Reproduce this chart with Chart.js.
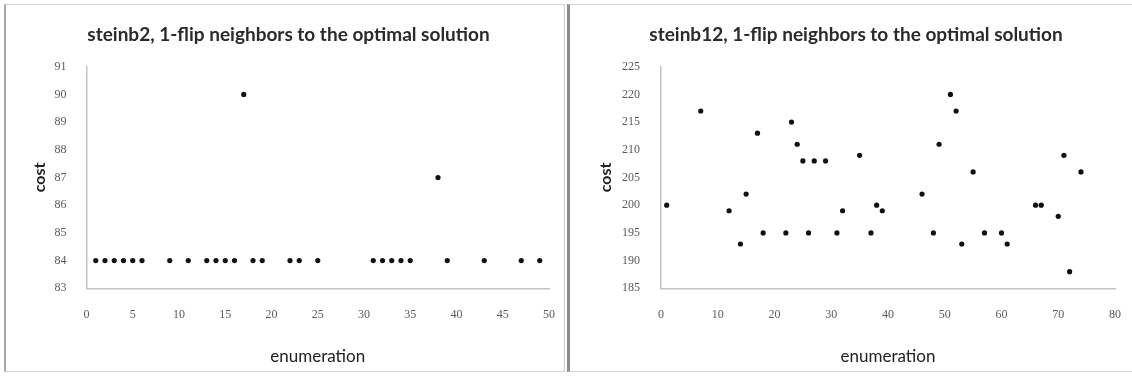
<!DOCTYPE html>
<html><head><meta charset="utf-8">
<script src="https://cdn.jsdelivr.net/npm/chart.js@4.4.0/dist/chart.umd.min.js"></script>
<style>
html,body{margin:0;padding:0;background:#fff;width:1132px;height:379px;overflow:hidden;position:relative}
.panel{position:absolute;box-sizing:border-box}
#p1{left:4px;top:4px;width:561px;height:368px;border:1px solid #cfcfcf;border-left:2px solid #a8a8a8}
#p2{left:567px;top:4px;width:565px;height:368px;border:1px solid #cfcfcf;border-left:3px solid #8c8c8c;border-right:none}
canvas{position:absolute;top:0}
#c1{left:27px}
#c2{left:570px}
</style></head>
<body>
<div class="panel" id="p1"></div>
<div class="panel" id="p2"></div>
<canvas id="c1" width="539" height="379"></canvas>
<canvas id="c2" width="562" height="379"></canvas>
<script>
// ---- data ----
const leftTitle = 'steinb2, 1-flip neighbors to the optimal solution';
const rightTitle = 'steinb12, 1-flip neighbors to the optimal solution';
const xAxisTitle = 'enumeration';
const yAxisTitle = 'cost';

const leftEnumeration = [1,2,3,4,5,6,9,11,13,14,15,16,17,18,19,22,23,25,31,32,33,34,35,38,39,43,47,49];
const leftCost        = [84,84,84,84,84,84,84,84,84,84,84,84,90,84,84,84,84,84,84,84,84,84,84,87,84,84,84,84];
const leftXTicks = [0,5,10,15,20,25,30,35,40,45,50];
const leftYTicks = [83,84,85,86,87,88,89,90,91];

const rightEnumeration = [1,7,12,14,15,17,18,22,23,24,25,26,27,29,31,32,35,37,38,39,46,48,49,51,52,53,55,57,60,61,66,67,70,71,72,74];
const rightCost        = [200,217,199,193,202,213,195,195,215,211,208,195,208,208,195,199,209,195,200,199,202,195,211,220,217,193,206,195,195,193,200,200,198,209,188,206];
const rightXTicks = [0,10,20,30,40,50,60,70,80];
const rightYTicks = [185,190,195,200,205,210,215,220,225];

function makeChart(id, xs, ys, xTicks, yTicks, title, padLeft, yAxisWidth, rightPad, yTickPad, yTitlePad){
  const pts = xs.map((x,i)=>({x:x, y:ys[i]}));
  return new Chart(document.getElementById(id), {
    type:'scatter',
    data:{datasets:[{data:pts, backgroundColor:'#111', borderColor:'#111', borderWidth:0, pointRadius:2.6, pointHoverRadius:2.6}]},
    options:{
      responsive:false, animation:false, events:[],
      layout:{padding:{left:padLeft,right:rightPad,top:0,bottom:0}},
      plugins:{
        legend:{display:false}, tooltip:{enabled:false},
        title:{display:true, text:title, color:'#2a2a2a',
          font:{family:'Lato', size:19, weight:'bold', lineHeight:1.2},
          padding:{top:23.6, bottom:20.3}}
      },
      scales:{
        x:{type:'linear', min:xTicks[0], max:xTicks[xTicks.length-1],
          afterBuildTicks:s=>{s.ticks = xTicks.map(v=>({value:v}));},
          afterFit:s=>{s.height = 90.7;},
          grid:{display:false},
          border:{display:true, color:'#c4c4c4', width:1.5},
          ticks:{padding:11, color:'#5a5a5a', font:{family:'Liberation Serif', size:12}, maxRotation:0, autoSkip:false},
          title:{display:true, text:xAxisTitle, color:'#222', font:{family:'Lato', size:17, lineHeight:1.2}, padding:{top:0, bottom:12}}
        },
        y:{type:'linear', min:yTicks[0], max:yTicks[yTicks.length-1],
          afterBuildTicks:s=>{s.ticks = yTicks.map(v=>({value:v}));},
          afterFit:s=>{s.width = yAxisWidth;},
          grid:{display:false},
          border:{display:true, color:'#c4c4c4', width:1.5},
          ticks:{padding:yTickPad, color:'#5a5a5a', font:{family:'Liberation Serif', size:12}, autoSkip:false},
          title:{display:true, text:yAxisTitle, color:'#222', font:{family:'Lato', size:16, weight:'bold', lineHeight:1.0}, padding:{top:yTitlePad, bottom:0}}
        }
      }
    }
  });
}

makeChart('c1', leftEnumeration, leftCost, leftXTicks, leftYTicks, leftTitle, 0, 59.5, 16, 12, 5);
makeChart('c2', rightEnumeration, rightCost, rightXTicks, rightYTicks, rightTitle, 27, 64, 17, 13, 1);
</script>
</body></html>
